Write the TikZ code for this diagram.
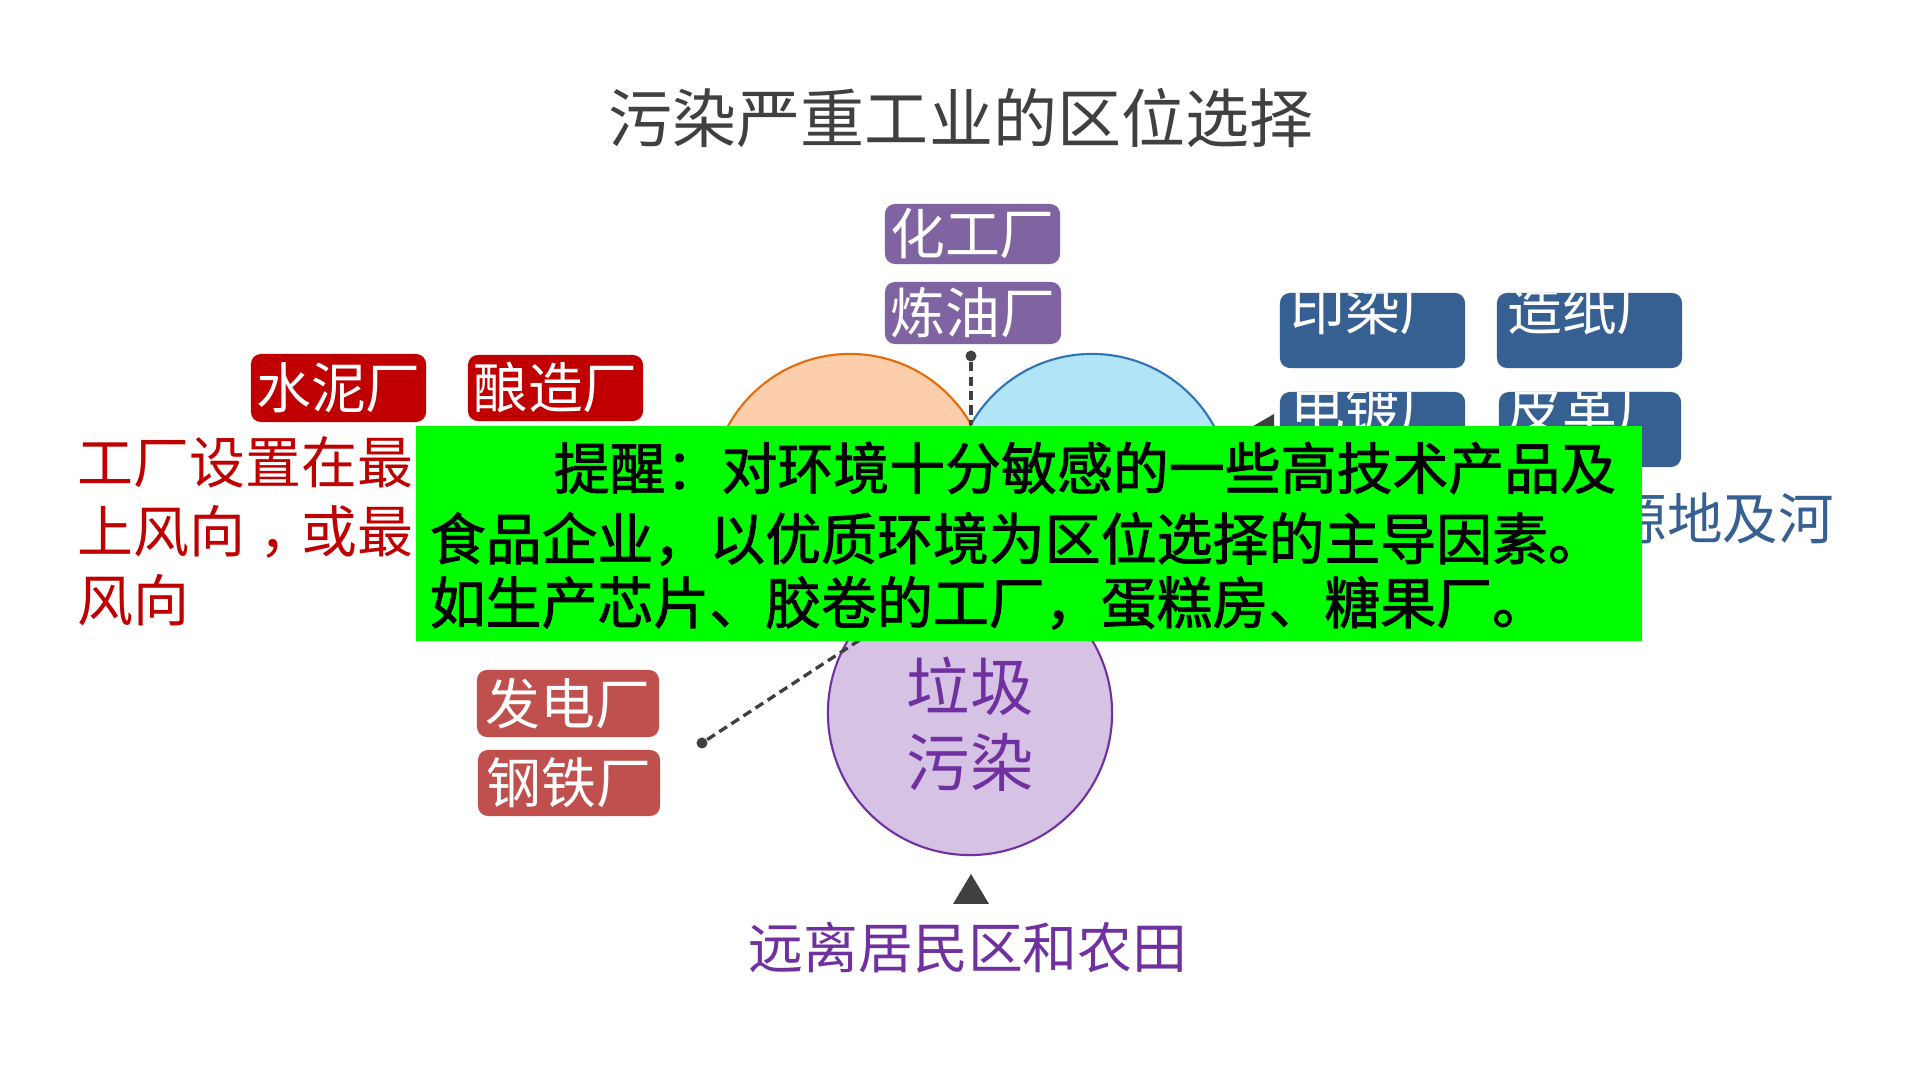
\documentclass[tikz,border=0pt]{standalone}
\usepackage{fontspec}
\setmainfont{Noto Sans CJK SC}
\newfontfamily\tipfont{Noto Sans CJK SC}[FakeBold=1.6]
\usetikzlibrary{calc}
\definecolor{titlegray}{RGB}{64,64,64}
\definecolor{boxpurple}{RGB}{128,100,162}
\definecolor{boxred}{RGB}{192,0,0}
\definecolor{boxbrown}{RGB}{192,80,77}
\definecolor{boxblue}{RGB}{55,96,146}
\definecolor{orfill}{RGB}{252,206,172}
\definecolor{orline}{RGB}{228,108,10}
\definecolor{blfill}{RGB}{178,228,247}
\definecolor{blline}{RGB}{46,117,182}
\definecolor{pufill}{RGB}{213,194,228}
\definecolor{puline}{RGB}{112,48,160}
\definecolor{tipgreen}{RGB}{0,255,0}
\tikzset{
  plantbox/.style={rounded corners=0.1cm, inner sep=0pt, text=white,
    font=\fontsize{15.6pt}{18pt}\selectfont},
  cliptext/.style={inner sep=0pt, text=white, font=\fontsize{15.6pt}{18pt}\selectfont},
  zone/.style={circle, inner sep=0pt, line width=0.6pt},
  leader/.style={draw=titlegray, line width=0.95pt, dash pattern=on 2.6pt off 1.5pt},
  pin/.style={circle, fill=titlegray, inner sep=0pt, minimum size=0.11cm},
  marker/.style={fill=titlegray},
  redtext/.style={anchor=west, inner sep=0pt, text=boxred, font=\fontsize{15.9pt}{19pt}\selectfont},
  tiptext/.style={anchor=west, inner sep=0pt, text=black, font=\fontsize{15.9pt}{19pt}\tipfont},
}
\begin{document}
\begin{tikzpicture}[x=0.01cm, y=-0.01cm]
\useasboundingbox (0,0) rectangle (1920,1080);
\fill[white] (0,0) rectangle (1920,1080);

% title
\node[text=titlegray, inner sep=0pt, font=\fontsize{18.2pt}{22pt}\selectfont] (title) at (961,118) {污染严重工业的区位选择};

% circles
\node[zone, draw=orline, fill=orfill, minimum size=2.78cm] (orange) at (850,493) {};
\node[zone, draw=blline, fill=blfill, minimum size=2.78cm] (blue) at (1092,493) {};
\node[zone, draw=puline, fill=pufill, minimum size=2.84cm] (purple) at (970,713) {};
\node[text=puline, inner sep=0pt, font=\fontsize{18pt}{21pt}\selectfont] (lj) at (970,686) {垃圾};
\node[text=puline, inner sep=0pt, font=\fontsize{18pt}{21pt}\selectfont] (wr) at (970,762) {污染};

% leaders
\node[pin] (pintop) at (971,356) {};
\coordinate (ob) at (971,425);
\draw[leader] (pintop) -- (ob);
\node[pin] (pinleft) at (702,743) {};
\coordinate (lowend) at (872,632);
\draw[leader] (pinleft) -- (lowend);

% purple boxes
\node[plantbox, fill=boxpurple, minimum width=1.75cm, minimum height=0.60cm] (hg) at (972.5,234) {化工厂};
\node[plantbox, fill=boxpurple, minimum width=1.76cm, minimum height=0.62cm] (ly) at (973,313) {炼油厂};

% red boxes
\node[plantbox, fill=boxred, minimum width=1.75cm, minimum height=0.68cm] (sn) at (338.5,388) {水泥厂};
\node[plantbox, fill=boxred, minimum width=1.75cm, minimum height=0.66cm] (nz) at (555.5,388) {酿造厂};

% brown boxes
\node[plantbox, fill=boxbrown, minimum width=1.82cm, minimum height=0.67cm] (fd) at (568,703.5) {发电厂};
\node[plantbox, fill=boxbrown, minimum width=1.82cm, minimum height=0.66cm] (gt) at (569,783) {钢铁厂};

% blue boxes (text clipped by box)
\node[plantbox, fill=boxblue, minimum width=1.85cm, minimum height=0.75cm,
  path picture={\node[cliptext, yshift=-0.17cm] (yrt) at (path picture bounding box.north) {印染厂};}] (yr) at (1372.5,330.5) {};
\node[plantbox, fill=boxblue, minimum width=1.85cm, minimum height=0.75cm,
  path picture={\node[cliptext, yshift=-0.17cm] (zzt) at (path picture bounding box.north) {造纸厂};}] (zz) at (1589.5,330.5) {};
\node[plantbox, fill=boxblue, minimum width=1.85cm, minimum height=0.75cm,
  path picture={\node[cliptext, yshift=-0.17cm] (ddt) at (path picture bounding box.north) {电镀厂};}] (dd) at (1372.5,429.5) {};
\node[plantbox, fill=boxblue, minimum width=1.82cm, minimum height=0.75cm,
  path picture={\node[cliptext, yshift=-0.17cm] (pgt) at (path picture bounding box.north) {皮革厂};}] (pg) at (1590,429.5) {};

% markers
\fill[marker] (1243,432) -- (1274,414) -- (1274,450) -- cycle;
\fill[marker] (971,874) -- (953,904) -- (989,904) -- cycle;

% side texts
\node[redtext] (r1) at (77,462) {工厂设置在最};
\node[redtext] (r2) at (77,531.5) {上风向\makebox[1em][l]{\hspace{0.26em}，}或最};
\node[redtext] (r3) at (77,600) {风向};
\node[anchor=west, inner sep=0pt, text=boxblue, font=\fontsize{15.8pt}{19pt}\selectfont] (src) at (1611,518) {源地及河};
\node[text=puline, inner sep=0pt, font=\fontsize{15.6pt}{19pt}\selectfont] (far) at (968,948) {远离居民区和农田};

% reminder box
\node[fill=tipgreen, inner sep=0pt, minimum width=12.26cm, minimum height=2.15cm] (tip) at (1029,533.5) {};
\node[tiptext] (t1) at (553,468) {提醒：对环境十分敏感的一些高技术产品及};
\node[tiptext] (t2) at (429,539) {食品企业，以优质环境为区位选择的主导因素。};
\node[tiptext] (t3) at (429,603) {如生产芯片、胶卷的工厂，蛋糕房、糖果厂。};
\end{tikzpicture}
\end{document}
